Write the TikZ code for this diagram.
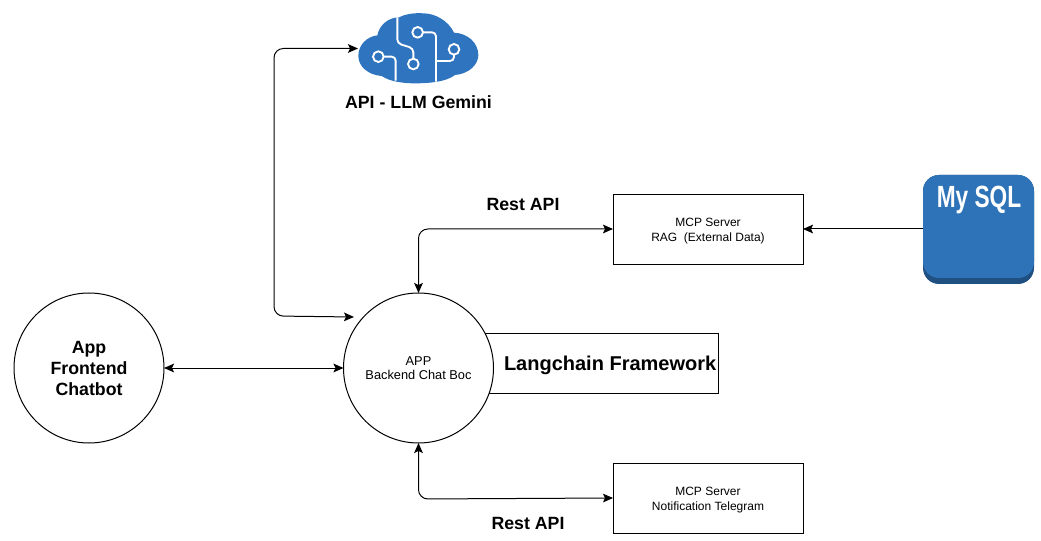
\documentclass[tikz,border=0pt]{standalone}
\usepackage{fontspec}
\usepackage{graphicx}
\setmainfont{Liberation Sans}
\usetikzlibrary{arrows.meta}
\definecolor{cloudblue}{HTML}{2F74BE}
\definecolor{dbblue}{HTML}{2E73B8}
\definecolor{dbdark}{HTML}{205081}
\tikzset{
  x=0.75pt,y=-0.75pt,
  every node/.style={inner sep=0pt,outer sep=0pt,align=center},
  smalltext/.style={font=\fontsize{9}{11}\selectfont},
  boldtext/.style={font=\fontsize{13.3}{15.75}\selectfont\bfseries},
  mcpbox/.style={draw=black,line width=0.6pt,fill=white,minimum width=142.5pt,minimum height=52.5pt,smalltext},
  bubble/.style={circle,draw=black,line width=0.75pt,fill=white,minimum size=112.5pt},
  link/.style={draw=black,line width=0.75pt,rounded corners=7pt,{Stealth[length=7.5pt,width=6.5pt,inset=1.5pt]}-{Stealth[length=7.5pt,width=6.5pt,inset=1.5pt]}},
  oneway/.style={draw=black,line width=0.75pt,-{Stealth[length=7.5pt,width=6.5pt,inset=1.5pt]}},
  trace/.style={draw=white,line width=1.4pt,rounded corners=3pt},
  pad/.style={draw=white,line width=1.4pt,fill=cloudblue}
}
\begin{document}
\begin{tikzpicture}
\useasboundingbox (0,0) rectangle (1041,541);
% Langchain box lies behind the backend circle
\node[draw=black,line width=0.6pt,minimum width=180pt,minimum height=45pt,anchor=east] (lang) at (718.5,363) {};
\node[anchor=west,font=\fontsize{15}{18}\selectfont\bfseries] (langt) at (504,365) {Langchain Framework};
\node[bubble,boldtext] (front) at (89,368) {App\\Frontend\\Chatbot};
\node[bubble,font=\fontsize{9.6}{11}\selectfont] (back) at (418.5,368) {APP\\Backend Chat Boc};
\node[mcpbox] (rag) at (708,229) {\rule{0pt}{9.8pt}MCP Server\\RAG\ \ (External Data)};
\node[mcpbox] (tele) at (708,498) {\rule{0pt}{9.8pt}MCP Server\\Notification Telegram};
% Cloud
\node[minimum width=90pt,minimum height=52pt] (gem) at (418,48.5) {};
\begin{scope}[shift={(340,0)},x=0.25pt,y=-0.25pt]
\fill[cloudblue]
  (55,168) .. controls (55,135) and (80,110) .. (112,106)
  .. controls (118,75) and (145,52) .. (178,52)
  .. controls (195,42) and (225,38) .. (250,40)
  .. controls (285,40) and (325,62) .. (342,98)
  .. controls (385,100) and (415,130) .. (415,165)
  .. controls (415,195) and (385,222) .. (345,225)
  .. controls (320,245) and (270,250) .. (225,250)
  .. controls (190,250) and (150,245) .. (125,228)
  .. controls (85,225) and (55,200) .. (55,168) -- cycle;
\draw[trace] (172,52) -- (172,130) -- (220,145) -- (220,175);
\draw[trace] (233,97) -- (288,97) -- (288,245);
\draw[trace] (288,183) -- (342,183) -- (342,165);
\draw[trace] (115,170) -- (167,170) -- (167,242);
\draw[pad] (220,192) circle[radius=4pt];
\draw[pad] (233,97) circle[radius=4pt];
\draw[pad] (342,148) circle[radius=4pt];
\draw[pad] (115,170) circle[radius=4pt];
\end{scope}
\node[boldtext] (gemt) at (418.5,102) {API - LLM Gemini};
% Database
\fill[dbdark,rounded corners=12pt] (923,175) rectangle (1034,284);
\fill[dbblue,rounded corners=12pt] (923,175) rectangle (1034,278);
\node[minimum width=83.25pt,minimum height=81pt] (db) at (978.5,229) {};
\node[text=white,font=\fontsize{23}{26}\selectfont\bfseries] (dbt) at (979,199.5) {\scalebox{0.74}[1]{My SQL}};
% Labels
\node[boldtext] (r1) at (523,204) {Rest API};
\node[boldtext] (r2) at (528,523) {Rest API};
% Connectors
\coordinate (bkin) at (354,317);
\path[link] (gem.west) -- (274,48.5) -- (274,316) -- (bkin);
\path[link] (rag.west) -- (418.5,229) -- (back.north);
\path[link] (tele.west) -- (418.5,499) -- (back.south);
\path[link] (front.east) -- (back.west);
\path[oneway] (db.west) -- (rag.east);
\end{tikzpicture}
\end{document}
